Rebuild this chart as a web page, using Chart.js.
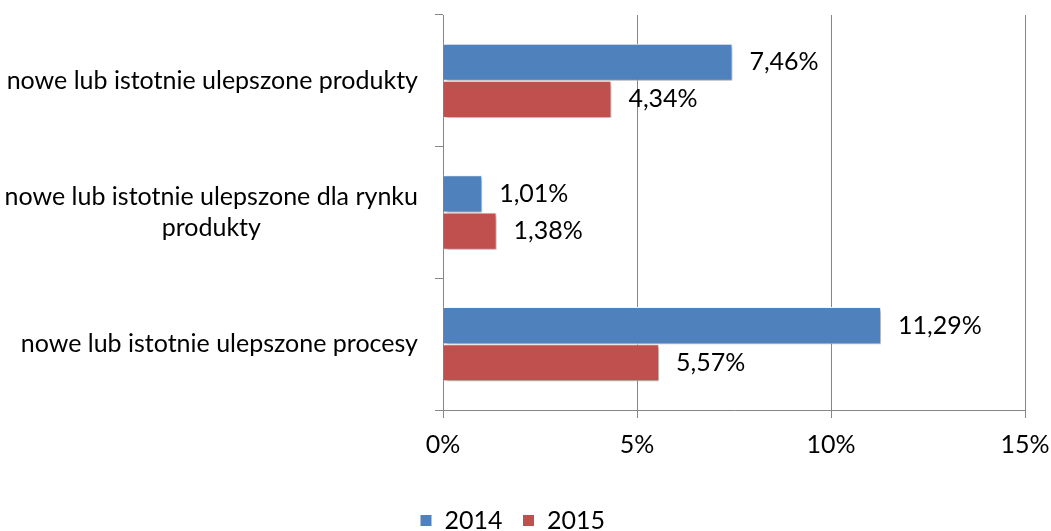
<!DOCTYPE html>
<html>
<head>
<meta charset="utf-8">
<script src="https://cdn.jsdelivr.net/npm/chart.js@4"></script>
<style>
  html, body { margin: 0; padding: 0; background: #fff; }
  #wrap { width: 1051px; height: 531px; }
</style>
</head>
<body>
<div id="wrap"><canvas id="innowacjeChart"></canvas></div>
<script>
// kategorie (wiersze), lata i udziały w %
const categories = [
    ['nowe lub istotnie ulepszone produkty'],
    ['nowe lub istotnie ulepszone dla rynku', 'produkty'],
    ['nowe lub istotnie ulepszone procesy']
];
const years = ['2014', '2015'];
const values2014 = [7.46, 1.01, 11.29];
const values2015 = [4.34, 1.38, 5.57];
const xMin = 0, xMax = 15, xStep = 5;

const FONT = 'Lato';
const FONT_SIZE = 25;
const AXIS_GRAY = '#868686';

function fmtPct(v) {
    return v.toFixed(2).replace('.', ',') + '%';
}

// cień pod słupkami
const barShadow = {
    id: 'barShadow',
    beforeDatasetsDraw(chart) {
        const ctx = chart.ctx;
        ctx.save();
        ctx.shadowColor = 'rgba(0,0,0,0.35)';
        ctx.shadowBlur = 4;
        ctx.shadowOffsetX = 2;
        ctx.shadowOffsetY = 2;
    },
    afterDatasetsDraw(chart) {
        chart.ctx.restore();
    }
};

// etykiety wartości + wielowierszowe nazwy kategorii (linie wyśrodkowane)
const textLayer = {
    id: 'textLayer',
    afterDraw(chart) {
        const ctx = chart.ctx;
        ctx.save();
        ctx.fillStyle = '#000';
        ctx.font = FONT_SIZE + 'px ' + FONT;
        ctx.textBaseline = 'middle';

        ctx.textAlign = 'left';
        chart.data.datasets.forEach((ds, di) => {
            chart.getDatasetMeta(di).data.forEach((bar, i) => {
                ctx.fillText(fmtPct(ds.data[i]), bar.x + 17, bar.y);
            });
        });

        const yScale = chart.scales.y;
        const right = chart.chartArea.left - 25;
        const lineH = 31;
        ctx.textAlign = 'center';
        categories.forEach((lines, i) => {
            const w = Math.max(...lines.map(l => ctx.measureText(l).width));
            const cx = right - w / 2;
            const cy = yScale.getPixelForValue(i);
            const y0 = cy - (lines.length - 1) * lineH / 2;
            lines.forEach((l, k) => ctx.fillText(l, cx, y0 + k * lineH));
        });
        ctx.restore();
    }
};

new Chart(document.getElementById('innowacjeChart').getContext('2d'), {
    type: 'bar',
    data: {
        labels: categories,
        datasets: [{
            label: years[0],
            data: values2014,
            backgroundColor: '#4F81BD',
            borderColor: '#ffffff',
            borderWidth: 1,
            categoryPercentage: 0.565,
            barPercentage: 1
        }, {
            label: years[1],
            data: values2015,
            backgroundColor: '#C0504D',
            borderColor: '#ffffff',
            borderWidth: 1,
            categoryPercentage: 0.565,
            barPercentage: 1
        }]
    },
    options: {
        indexAxis: 'y',
        responsive: true,
        maintainAspectRatio: false,
        animation: false,
        layout: { padding: { top: 15, right: 26, left: 0, bottom: -12 } },
        scales: {
            x: {
                min: xMin,
                max: xMax,
                afterFit(scale) {
                    scale.height = 78;
                    scale.paddingLeft = 0;
                    scale.paddingRight = 0;
                },
                ticks: {
                    stepSize: xStep,
                    padding: 12,
                    color: '#000',
                    font: { family: FONT, size: FONT_SIZE },
                    callback: v => v + '%'
                },
                grid: { color: AXIS_GRAY, tickLength: 8, tickColor: AXIS_GRAY },
                border: { color: AXIS_GRAY }
            },
            y: {
                afterFit(scale) { scale.width = 443; },
                ticks: { display: false },
                grid: { drawOnChartArea: false, tickLength: 8, color: AXIS_GRAY },
                border: { color: AXIS_GRAY }
            }
        },
        plugins: {
            legend: {
                position: 'bottom',
                labels: {
                    boxWidth: 12,
                    boxHeight: 12,
                    padding: 20,
                    color: '#000',
                    font: { family: FONT, size: FONT_SIZE }
                }
            },
            tooltip: { enabled: false }
        }
    },
    plugins: [barShadow, textLayer]
});
</script>
</body>
</html>
